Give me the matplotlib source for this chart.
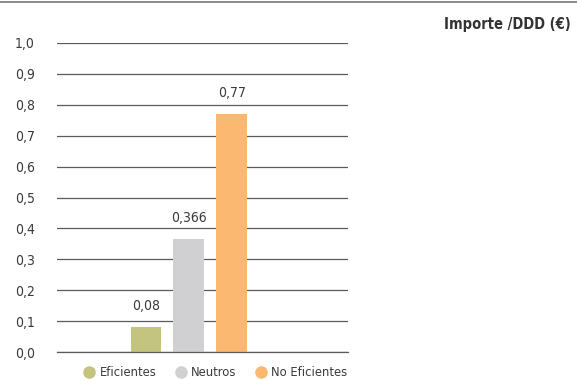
import matplotlib.pyplot as plt
from matplotlib.lines import Line2D

# Importe por DDD según grupo
categorias = ["Eficientes", "Neutros", "No Eficientes"]
valores = [0.08, 0.366, 0.77]
etiquetas = ["0,08", "0,366", "0,77"]
colores = ["#c3c47f", "#d0d0d2", "#fab870"]
yticks = [0.0, 0.1, 0.2, 0.3, 0.4, 0.5, 0.6, 0.7, 0.8, 0.9, 1.0]

plt.rcParams["font.family"] = ["DejaVu Sans"]
plt.rcParams["font.stretch"] = "condensed"

fig = plt.figure(figsize=(5.77, 3.80), dpi=100)
ax = fig.add_axes([57 / 577, 1 - 352 / 380, 291 / 577, 309 / 380])
ax.set_axisbelow(True)

x = range(len(valores))
ax.bar(x, valores, width=0.72, color=colores, zorder=3)
for xi, v, t in zip(x, valores, etiquetas):
    ax.text(xi, v + 0.045, t, ha="center", va="bottom", fontsize=10, color="#3a3a3a")

ax.set_xlim(-2.07, 4.7)
ax.set_ylim(0, 1.0)
ax.set_yticks(yticks)
ax.set_yticklabels([f"{t:.1f}".replace(".", ",") for t in yticks])
ax.set_xticks([])
ax.yaxis.grid(True, color="#5a5a5a", linewidth=0.9)
ax.tick_params(axis="y", length=0, pad=16, labelsize=10, labelcolor="#3a3a3a")
for s in ax.spines.values():
    s.set_visible(False)
ax.axhline(0, color="#5a5a5a", linewidth=0.9, zorder=4, clip_on=False)

# línea superior y título
fig.add_artist(Line2D([0, 1], [1 - 2 / 380, 1 - 2 / 380], color="#777777", linewidth=1.2))
fig.text(571 / 577, 1 - 25 / 380, "Importe /DDD (€)", ha="right", va="center",
         fontsize=10.5, fontweight="bold", color="#333333")

handles = [Line2D([], [], marker="o", linestyle="", markersize=8, color=c) for c in colores]
fig.legend(handles, categorias, loc="center", bbox_to_anchor=(215 / 577, 1 - 373 / 380),
           ncol=3, frameon=False, fontsize=9.3, handletextpad=0.3, columnspacing=1.4,
           handlelength=1.0, labelcolor="#3a3a3a")

fig.savefig("out.png", dpi=100)
